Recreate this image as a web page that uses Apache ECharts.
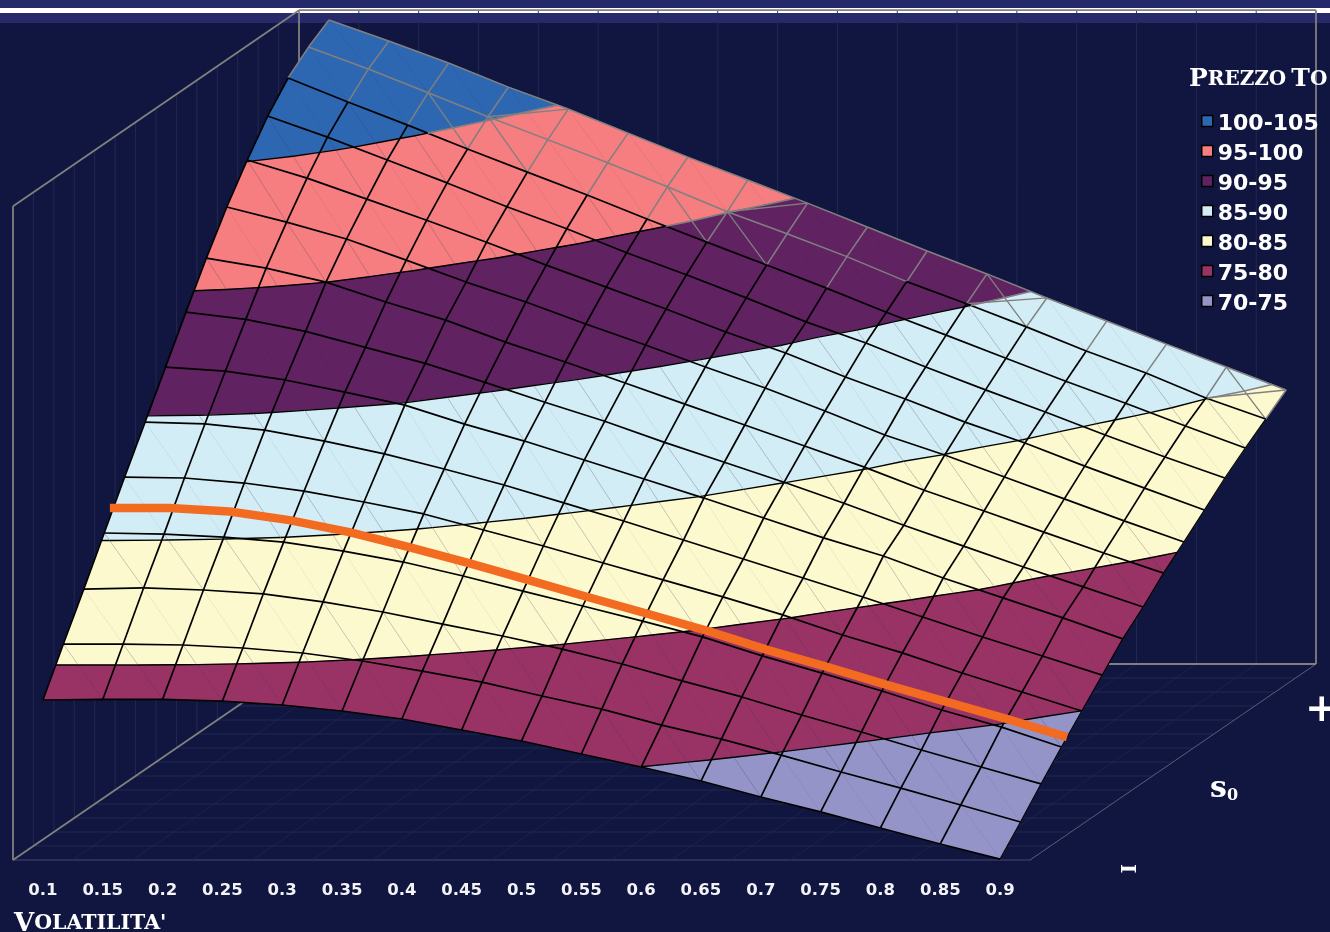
<!DOCTYPE html>
<html><head><meta charset="utf-8">
<style>html,body{margin:0;padding:0;background:#10163f;overflow:hidden}#c{width:1330px;height:932px}</style>
<script src="https://cdn.jsdelivr.net/npm/echarts@6/dist/echarts.min.js"></script>
</head><body><div id="c"></div>
<script>
const volLabels=['0.1','0.15','0.2','0.25','0.3','0.35','0.4','0.45','0.5','0.55','0.6','0.65','0.7','0.75','0.8','0.85','0.9'];
const bandNames=['100-105','95-100','90-95','85-90','80-85','75-80','70-75'];
const bandColors=['#2e67b1','#f67d80','#612262','#d2edf5','#fcf9cf','#9a3365','#9594c9'];
const bandLow=[100,95,90,85,80,75,70];
const bandHigh=[105,100,95,90,85,80,75];
// Price surface, one list per S0 step (low S0 first), one value per volatility
const priceS00=[78.59,78.62,78.62,78.53,78.32,78.00,77.57,76.98,76.39,75.69,74.99,74.24,73.38,72.58,71.72,70.86,70.05];
const priceS01=[80.84,80.84,80.79,80.63,80.36,79.93,79.39,78.80,78.05,77.35,76.49,75.74,74.88,73.97,73.11,72.20,71.29];
const priceS02=[83.04,83.10,82.99,82.78,82.35,81.81,81.16,80.52,79.82,79.02,78.11,77.25,76.28,75.37,74.40,73.49,72.58];
const priceS03=[85.30,85.24,85.08,84.81,84.33,83.74,82.99,82.18,81.38,80.57,79.72,78.70,77.78,76.82,75.80,74.88,73.81];
const priceS04=[87.55,87.50,87.23,86.80,86.21,85.57,84.71,83.85,82.94,82.03,81.12,80.15,79.07,78.11,77.03,76.01,74.99];
const priceS05=[89.75,89.65,89.32,88.73,88.04,87.23,86.37,85.41,84.44,83.42,82.40,81.38,80.36,79.29,78.21,77.19,76.17];
const priceS06=[91.95,91.73,91.26,90.61,89.91,88.89,87.98,86.96,85.94,84.92,83.85,82.78,81.81,80.63,79.56,78.49,77.36];
const priceS07=[94.15,93.76,93.12,92.26,91.40,90.38,89.31,88.29,87.16,86.09,85.02,83.89,82.71,81.59,80.47,79.40,78.32];
const priceS08=[96.30,95.76,95.01,93.94,92.97,91.79,90.72,89.59,88.46,87.34,86.21,85.08,83.84,82.72,81.59,80.47,79.39];
const priceS09=[98.29,97.48,96.57,95.44,94.26,93.19,92.01,90.88,89.70,88.57,87.34,86.05,84.98,83.80,82.62,81.44,80.31];
const priceS10=[100.06,99.09,97.96,96.83,95.65,94.42,93.24,92.06,90.83,89.70,88.41,87.23,85.99,84.87,83.63,82.45,81.27];
const priceS11=[101.67,100.54,99.31,98.08,96.80,95.62,94.33,93.15,91.91,90.62,89.49,88.20,86.97,85.78,84.55,83.37,82.24];
const priceS12=[102.96,101.67,100.43,99.15,97.91,96.68,95.39,94.15,92.92,91.68,90.39,89.16,87.92,86.68,85.50,84.28,83.10];
const priceS13=[103.87,102.69,101.42,100.13,98.90,97.66,96.37,95.03,93.85,92.62,91.28,90.09,88.85,87.55,86.37,85.03,83.90];
const priceS14=[104.57,103.44,102.26,100.97,99.79,98.50,97.21,95.98,94.74,93.46,92.17,90.94,89.65,88.41,87.17,85.94,84.71];
const surface=[priceS00,priceS01,priceS02,priceS03,priceS04,priceS05,priceS06,priceS07,priceS08,priceS09,priceS10,priceS11,priceS12,priceS13,priceS14];
// Orange cross-section at a fixed S0, one price per volatility
const orangePrices=[86.43,86.43,86.24,85.78,85.14,84.33,83.47,82.56,81.64,80.74,79.82,78.80,77.89,76.92,76.01,75.10,74.13];
const orangeDepth=3.28;
const levels=[75,80,85,90,95,100];
// Cells whose mesh diagonals the reference shows heavy and gray
const grayDown=[[2,12],[3,12],[6,12],[7,12],[11,13],[15,13]];
const grayUp=[[3,13],[7,13],[11,13],[15,13]];

const DU=0.3415, DV=0.7515, NI=17, NJ=15, TOP=105.1;
const GRAY='#808080', FAINT='#242a52', FAINT2='#1e234b';
const isGrayCell=(i,j)=>j===13||(j===12&&i<=9);
const cells=[];for(let j=0;j<NJ-1;j++)for(let i=0;i<NI-1;i++)cells.push([i,j]);
const tris=(i,j)=>{const n=(a,b)=>[a,b,surface[b][a]];
  return [[n(i,j),n(i+1,j),n(i,j+1)],[n(i+1,j),n(i+1,j+1),n(i,j+1)]];};
const mix=(a,b,t)=>[a[0]+(b[0]-a[0])*t,a[1]+(b[1]-a[1])*t,a[2]+(b[2]-a[2])*t];
function clip(poly,lvl,above){const out=[];const ins=p=>above?p[2]>=lvl:p[2]<=lvl;
  for(let k=0;k<poly.length;k++){const a=poly[k],b=poly[(k+1)%poly.length];
    if(ins(a))out.push(a);
    if(ins(a)!==ins(b))out.push(mix(a,b,(lvl-a[2])/(b[2]-a[2])));}
  return out;}
const prj=(api,p)=>api.coord([p[0]+DU*p[1],p[2]+DV*p[1]]);
const seg=(api,a,b,color,w)=>({type:'polyline',silent:true,shape:{points:[a,b]},style:{stroke:color,lineWidth:w,fill:null}});

function bandRender(b){return function(params,api){
  const [i,j]=cells[params.dataIndex],children=[];
  for(const t of tris(i,j)){
    let p=clip(t,bandLow[b],true);if(p.length>2)p=clip(p,bandHigh[b],false);
    if(p.length>2)children.push({type:'polygon',silent:true,shape:{points:p.map(q=>prj(api,q))},
      style:{fill:bandColors[b],stroke:bandColors[b],lineWidth:0.6}});
  }
  return {type:'group',children};
};}
function nodePt(api,i,j){return prj(api,[i,j,surface[j][i]]);}
function meshRender(params,api){
  const gray=[],black=[],contours=[];
  for(let j=0;j<NJ;j++)for(let i=0;i<NI-1;i++){
    const g=j===14||(j===13&&i<10);
    (g?gray:black).push(seg(api,nodePt(api,i,j),nodePt(api,i+1,j),g?GRAY:'#000',g?1.5:1.7));}
  for(let i=0;i<NI;i++)for(let j=0;j<NJ-1;j++){
    const g=j===13||(j===12&&i<=9);
    const edge=i===16;
    (g?gray:black).push(seg(api,nodePt(api,i,j),nodePt(api,i,j+1),g?GRAY:'#000',g?1.5:(edge?1.2:1.7)));}
  const thin=[];
  for(const [i,j] of cells){
    const z=[surface[j][i],surface[j][i+1],surface[j+1][i],surface[j+1][i+1]];
    const lo=Math.min(...z),hi=Math.max(...z);
    if(!isGrayCell(i,j)&&levels.some(l=>lo-0.03<l&&hi+0.03>l))
      thin.push(seg(api,nodePt(api,i,j+1),nodePt(api,i+1,j),'rgba(70,70,100,0.45)',0.5));
    for(const t of tris(i,j))for(const l of levels){
      const pts=[];
      for(let k=0;k<3;k++){const a=t[k],b=t[(k+1)%3];
        if((a[2]>=l)!==(b[2]>=l))pts.push(mix(a,b,(l-a[2])/(b[2]-a[2])));}
      if(pts.length===2){const g=isGrayCell(i,j);
        contours.push(seg(api,prj(api,pts[0]),prj(api,pts[1]),g?GRAY:'#000',g?1.6:1.4));}
    }
  }
  for(const [i,j] of grayDown)gray.push(seg(api,nodePt(api,i,j+1),nodePt(api,i+1,j),GRAY,1.3));
  for(const [i,j] of grayUp)gray.push(seg(api,nodePt(api,i,j),nodePt(api,i+1,j+1),GRAY,1.3));
  return {type:'group',children:[...thin,...gray,...black,...contours]};
}
function boxRender(params,api){
  const P=(u,d,z)=>api.coord([u+DU*d,z+DV*d]);
  const L=-0.5,R=16.5,D=14,ch=[];
  for(let k=1;k<NI;k++){ // back wall verticals and floor diagonals
    const u=L+k;
    ch.push(seg(api,P(u,D,TOP),P(u,D,70),FAINT,0.9));
    ch.push(seg(api,P(u,0,70),P(u,D,70),FAINT2,0.9));
  }
  for(let d=1;d<D;d++){ // left wall verticals and floor horizontals
    ch.push(seg(api,P(L,d,TOP),P(L,d,70),FAINT,0.9));
    ch.push(seg(api,P(L,d,70),P(R,d,70),FAINT,0.9));
  }
  ch.push(seg(api,P(R,0,70),P(R,D,70),'#5a5d78',1));
  const frame=[[P(L,0,70),P(L,0,TOP)],[P(L,0,TOP),P(L,D,TOP)],[P(L,D,TOP),P(R,D,TOP)],[P(R,D,TOP),P(R,D,70)],
    [P(L,D,70),P(R,D,70)],[P(L,D,TOP),P(L,D,70)],[P(L,0,70),P(L,D,70)]];
  frame.forEach(f=>ch.push(seg(api,f[0],f[1],GRAY,1.8)));
  return {type:'group',children:ch};
}
function orangeRender(params,api){
  return {type:'polyline',silent:true,
    shape:{points:orangePrices.map((p,i)=>prj(api,[i,orangeDepth,p]))},
    style:{stroke:'#f36a21',lineWidth:8.5,fill:null,lineJoin:'round',lineCap:'butt'}};
}
const bandSeries=bandNames.map((name,b)=>({name,type:'custom',xAxisIndex:1,yAxisIndex:0,z:3,silent:true,
  itemStyle:{color:bandColors[b]},renderItem:bandRender(b),data:cells,encode:{x:0,y:1},animation:false}));
const chart=echarts.init(document.getElementById('c'),null,{renderer:'canvas'});
const CAP='"DejaVu Serif"';
chart.setOption({
  animation:false,backgroundColor:'#10163f',
  grid:{left:13,right:300,top:208,bottom:72,containLabel:false},
  xAxis:[{type:'category',data:volLabels,position:'bottom',boundaryGap:true,
      axisLine:{lineStyle:{color:'#343861',width:1.5}},axisTick:{length:14,lineStyle:{color:'#2b3059'}},splitLine:{show:false},
      axisLabel:{color:'#f4f4f8',fontFamily:'"DejaVu Sans"',fontWeight:'bold',fontSize:16.5,margin:22,interval:0}},
    {type:'value',min:-0.5,max:16.5,show:false}],
  yAxis:[{type:'value',min:70,max:105,show:false}],
  title:[
   {text:"{a|P}{b|REZZO} {a|T}{b|O}",left:1184,top:62,textStyle:{rich:{a:{fontFamily:CAP,fontWeight:'bold',fontSize:25,color:'#fff'},b:{fontFamily:CAP,fontWeight:'bold',fontSize:20,color:'#fff'}}}},
   {text:"{a|V}{b|OLATILITA'}",left:9,top:906,textStyle:{rich:{a:{fontFamily:CAP,fontWeight:'bold',fontSize:26,color:'#fff'},b:{fontFamily:CAP,fontWeight:'bold',fontSize:20.5,color:'#fff'}}}},
   {text:"{a|s}{b|0}",left:1205,top:769,textStyle:{rich:{a:{fontFamily:CAP,fontWeight:'bold',fontSize:30,color:'#fff'},b:{fontFamily:CAP,fontWeight:'bold',fontSize:16,color:'#fff',padding:[14,0,0,0]}}}}
  ],
  legend:{orient:'vertical',left:1201,top:106,padding:0,itemWidth:11,itemHeight:11,itemGap:0,selectedMode:false,
    data:bandNames,icon:'rect',itemStyle:{borderColor:'#000',borderWidth:1.5},
    formatter:n=>'{t|'+n+'}',
    textStyle:{rich:{t:{color:'#fff',fontFamily:'"DejaVu Sans"',fontWeight:'bold',fontSize:22,height:24,lineHeight:24,padding:[6,0,0,0]}}}},
  graphic:{elements:[
    {type:'rect',z:-10,silent:true,shape:{x:0,y:0,width:1330,height:8},style:{fill:'#25286a'}},
    {type:'rect',z:-10,silent:true,shape:{x:0,y:8,width:1330,height:5},style:{fill:'#fff'}},
    {type:'rect',z:-10,silent:true,shape:{x:0,y:13,width:1330,height:10},style:{fill:'#27296b'}},
    {type:'text',z:10,silent:true,x:1305,y:691,style:{text:'+',fill:'#fff',font:'bold 40px "DejaVu Serif"'}},
    {type:'text',z:10,silent:true,x:1136,y:864,rotation:-Math.PI/2,style:{text:'I',fill:'#fff',font:'bold 20px "DejaVu Serif"'}}
  ]},
  series:[
    {name:'box',type:'custom',xAxisIndex:1,yAxisIndex:0,z:1,silent:true,renderItem:boxRender,data:[[0,70]],encode:{x:0,y:1}},
    ...bandSeries,
    {name:'mesh',type:'custom',xAxisIndex:1,yAxisIndex:0,z:4,silent:true,renderItem:meshRender,data:[[0,70]],encode:{x:0,y:1}},
    {name:'S0 section',type:'custom',xAxisIndex:1,yAxisIndex:0,z:6,silent:true,renderItem:orangeRender,data:[[0,70]],encode:{x:0,y:1}}
  ]
});
</script></body></html>
